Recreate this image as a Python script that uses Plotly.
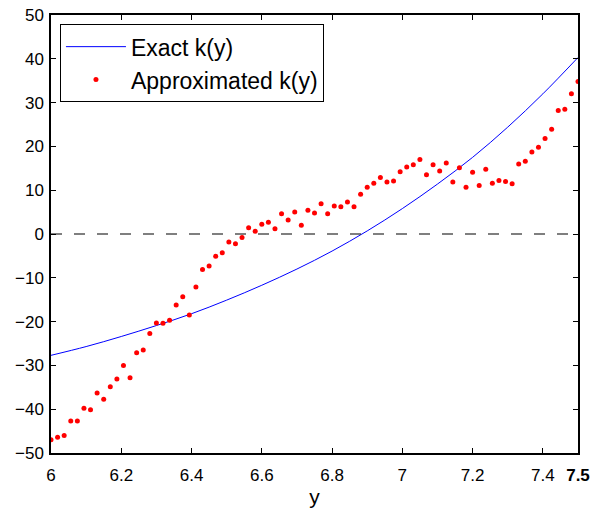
import numpy as np
import plotly.graph_objects as go

# Exact k(y) at 0.1 steps
exact_x = [6.0, 6.1, 6.2, 6.3, 6.4, 6.5, 6.6, 6.7, 6.8, 6.9, 7.0, 7.1, 7.2, 7.3, 7.4, 7.5]
exact_k = [-27.7, -25.7, -23.4, -20.9, -18.2, -15.1, -11.7, -8.0, -3.9, 0.7, 5.8, 11.4, 17.5, 24.4, 32.0, 40.3]

# Approximated k(y): 81 samples from 6 to 7.5
approx_k = [-47.0, -46.4, -46.0, -42.7, -42.7, -39.8, -40.1, -36.3, -37.7, -34.9,
            -33.1, -30.0, -32.8, -27.1, -26.5, -22.7, -20.3, -20.4, -19.7, -16.2,
            -14.3, -18.5, -12.1, -8.1, -7.3, -5.1, -4.3, -1.8, -2.2, -0.8,
            1.4, 0.6, 2.2, 2.7, 1.2, 4.6, 3.2, 5.0, 2.0, 5.4,
            4.8, 6.9, 4.6, 6.4, 6.2, 7.3, 6.2, 9.1, 10.7, 11.6,
            12.9, 11.9, 12.1, 14.2, 15.3, 15.8, 17.0, 13.5, 15.8, 14.4,
            16.2, 11.9, 15.1, 10.7, 14.1, 11.1, 14.8, 11.6, 12.2, 12.0,
            11.5, 16.0, 16.6, 18.7, 19.8, 21.8, 23.9, 28.2, 28.5, 32.0, 34.8]
approx_x = list(np.linspace(6.0, 7.5, len(approx_k)))

zero_x = [6.0, 7.5]
zero_y = [0, 0]

x_tickvals = [6, 6.2, 6.4, 6.6, 6.8, 7, 7.2, 7.4, 7.5]
x_ticktext = ["6", "6.2", "6.4", "6.6", "6.8", "7", "7.2", "7.4", "<b>7.5</b>"]
y_tickvals = [-50, -40, -30, -20, -10, 0, 10, 20, 30, 40, 50]

FONT = "Liberation Sans, Arial, Helvetica, sans-serif"

fig = go.Figure()
fig.add_trace(go.Scatter(x=exact_x, y=exact_k, mode="lines", name="Exact k(y)",
                         line=dict(color="#0000ff", width=1, shape="spline")))
fig.add_trace(go.Scatter(x=approx_x, y=approx_k, mode="markers", name="Approximated k(y)",
                         marker=dict(color="#ff0000", size=5)))
fig.add_trace(go.Scatter(x=zero_x, y=zero_y, mode="lines", showlegend=False,
                         line=dict(color="black", width=1.2, dash="11px,12px")))

axis_common = dict(showgrid=False, zeroline=False, showline=True, linecolor="black",
                   linewidth=1.5, mirror="ticks", ticks="inside", ticklen=5,
                   tickcolor="black", automargin=False,
                   tickfont=dict(family=FONT, size=17, color="black"))

fig.update_xaxes(range=[6, 7.5], tickvals=x_tickvals, ticktext=x_ticktext,
                 ticklabelstandoff=6,
                 title=dict(text="y", font=dict(family=FONT, size=21, color="black"), standoff=4),
                 **axis_common)
fig.update_yaxes(range=[-50, 50], tickvals=y_tickvals, ticklabelstandoff=2, **axis_common)

fig.update_layout(
    width=592, height=508,
    margin=dict(l=51, r=14, t=15, b=55),
    paper_bgcolor="white", plot_bgcolor="white",
    font=dict(family=FONT, color="black"),
    legend=dict(x=0.017, y=0.979, xanchor="left", yanchor="top",
                bgcolor="white", bordercolor="black", borderwidth=1,
                font=dict(family=FONT, size=23, color="black"),
                itemwidth=60, tracegroupgap=0),
)

fig.write_html("out.html")
